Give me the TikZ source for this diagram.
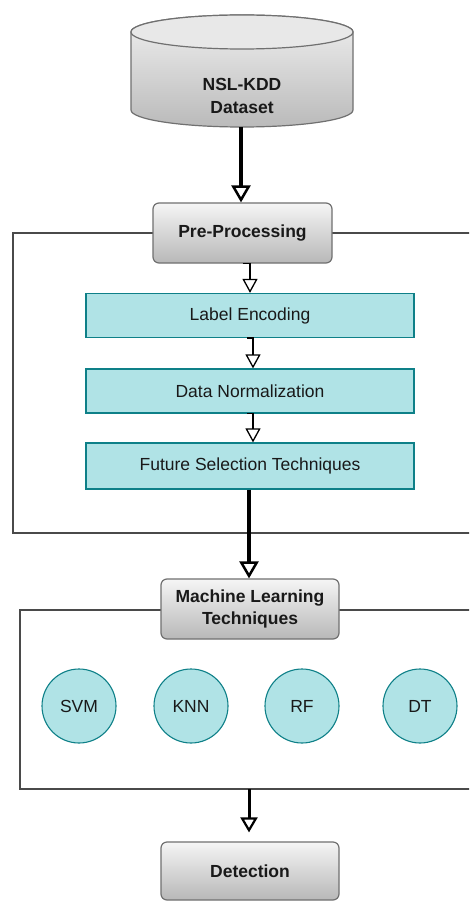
\documentclass[tikz,border=0pt]{standalone}
\usepackage{fontspec}
\setmainfont{Liberation Sans}
\usetikzlibrary{arrows.meta,shadings,calc}
\definecolor{tealfill}{HTML}{B0E3E6}
\definecolor{tealline}{HTML}{0E8088}
\definecolor{framegray}{HTML}{4A4A4A}
\definecolor{boxline}{HTML}{707070}
\tikzset{
  txt/.style={font=\fontsize{17.5}{20}\selectfont, text=black!90},
  graybox/.style={draw=boxline, line width=1.2pt, rounded corners=6pt,
    top color=white!96!black, bottom color=black!28,
    font=\fontsize{17.5}{22}\selectfont\bfseries, text=black!90, align=center},
  tealbox/.style={draw=tealline, line width=1.2pt, fill=tealfill, txt,
    minimum width=328pt, minimum height=44pt},
  algo/.style={circle, draw=tealline, line width=1.1pt, fill=tealfill, txt,
    minimum size=74pt, inner sep=0pt},
  frame/.style={draw=framegray, line width=1.5pt},
  bigarrow/.style={line width=4pt, -{Triangle[open, length=17pt, width=19pt, line width=2.5pt]}},
  midarrow/.style={line width=3pt, -{Triangle[open, length=15pt, width=17pt, line width=2.2pt]}},
  smallarrow/.style={line width=1.3pt, -{Triangle[open, length=14pt, width=15pt, line width=1.3pt]}}
}
\begin{document}
\begin{tikzpicture}[x=1pt, y=-1pt]
  \clip (0,0) rectangle (469,901);
  \fill[white] (0,0) rectangle (469,901);

  % database cylinder
  \path[draw=boxline, line width=1.2pt, top color=white!94!black, bottom color=black!27]
    (131,32) -- (131,110) arc[start angle=180, end angle=0, x radius=111, y radius=17]
    -- (353,32) arc[start angle=0, end angle=-180, x radius=111, y radius=17] -- cycle;
  \draw[boxline, line width=1.2pt, fill=black!9] (242,32) ellipse[x radius=111, y radius=17];
  \node[font=\fontsize{17.5}{23}\selectfont\bfseries, text=black!90, align=center] (ds) at (242,96) {NSL-KDD\\Dataset};
  \coordinate (dsb) at (241,127);

  % surrounding frames
  \draw[frame] (480,233) -- (13,233) -- (13,533) -- (480,533);
  \draw[frame] (480,610) -- (20,610) -- (20,789) -- (480,789);

  % main stages
  \node[graybox, minimum width=179pt, minimum height=60pt] (pre) at (242.5,233) {Pre-Processing};
  \node[tealbox] (le) at (250,315.5) {Label Encoding};
  \node[tealbox] (dn) at (250,391) {Data Normalization};
  \node[tealbox, minimum height=46pt] (fs) at (250,466) {Future Selection Techniques};
  \node[graybox, minimum width=178pt, minimum height=60pt] (ml) at (250,609) {Machine Learning\\Techniques};
  \node[graybox, minimum width=178pt, minimum height=58pt] (det) at (250,871) {Detection};

  % algorithms
  \node[algo] (svm) at (79,706) {SVM};
  \node[algo] (knn) at (191,706) {KNN};
  \node[algo] (rf) at (302,706) {RF};
  \node[algo] (dt) at (420,706) {DT};

  \coordinate (mlout) at (249,789);

  % connectors
  \draw[bigarrow] (dsb) -- (dsb |- pre.north);
  \draw[smallarrow] (pre.south) -- (le.north |- pre.south) -- (le.north);
  \draw[smallarrow] ($(le.south)+(-3,0)$) -- ($(le.south)+(3,0)$) -- ($(dn.north)+(3,0)$);
  \draw[smallarrow] ($(dn.south)+(-3,0)$) -- ($(dn.south)+(3,0)$) -- ($(fs.north)+(3,0)$);
  \draw[bigarrow] ($(fs.south)+(-1,0)$) -- ($(ml.north)+(-1,0)$);
  \draw[midarrow] (mlout) -- ($(det.north)+(-1,-9)$);
\end{tikzpicture}
\end{document}
